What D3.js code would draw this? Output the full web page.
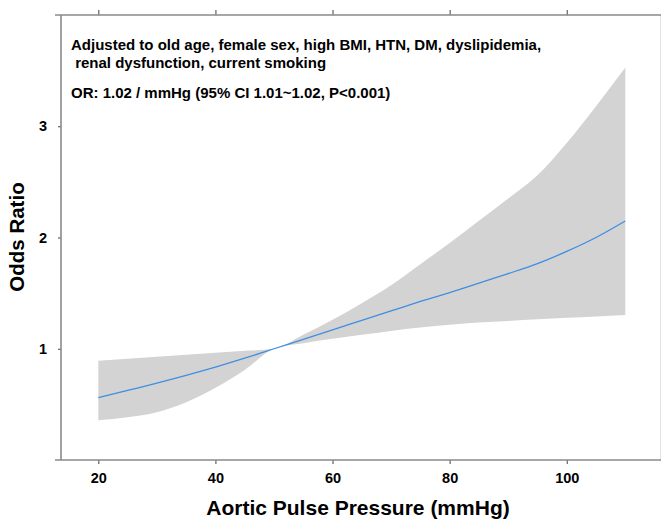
<!DOCTYPE html>
<html>
<head>
<meta charset="utf-8">
<script src="https://cdn.jsdelivr.net/npm/d3@7"></script>
<style>
  body { margin: 0; background: #fff; }
  svg text { font-family: "Liberation Sans", Arial, sans-serif; font-weight: bold; fill: #000; }
</style>
</head>
<body>
<svg id="chart" width="661" height="519"></svg>
<script>
// Aortic pulse pressure values (mmHg) where the curve was read
var pressure = [20, 25, 30, 35, 40, 45, 50, 55, 60, 65, 70, 75, 80, 85, 90, 95, 100, 105, 110];
// Odds ratio estimate and 95% CI band
var oddsRatio = [0.56, 0.625, 0.69, 0.76, 0.835, 0.915, 1.0, 1.085, 1.17, 1.255, 1.34, 1.425, 1.505, 1.59, 1.675, 1.765, 1.875, 2.0, 2.148];
var ciUpper   = [0.893, 0.91, 0.928, 0.946, 0.964, 0.982, 1.0, 1.125, 1.26, 1.41, 1.57, 1.76, 1.95, 2.15, 2.35, 2.56, 2.85, 3.18, 3.527];
var ciLower   = [0.357, 0.385, 0.43, 0.52, 0.65, 0.81, 1.0, 1.05, 1.09, 1.125, 1.16, 1.19, 1.215, 1.235, 1.25, 1.265, 1.278, 1.29, 1.303];

var xTicks = [20, 40, 60, 80, 100];
var yTicks = [1, 2, 3];

var noteLines = [
  'Adjusted to old age, female sex, high BMI, HTN, DM, dyslipidemia,',
  ' renal dysfunction, current smoking'
];
var orNote = 'OR: 1.02 / mmHg (95% CI 1.01~1.02, P<0.001)';
var xTitle = 'Aortic Pulse Pressure (mmHg)';
var yTitle = 'Odds Ratio';

var svg = d3.select('#chart');
var plotTop = 15, plotBottom = 460, plotLeft = 55, plotRight = 661, yAxisX = 61;

var x = d3.scaleLinear().domain([12.6, 116.1]).range([plotLeft, plotRight]);
var y = d3.scaleLinear().domain([0, 4]).range([plotBottom, plotTop]);

var rows = pressure.map((p, i) => ({ p: p, or: oddsRatio[i], hi: ciUpper[i], lo: ciLower[i] }));

// Confidence band
svg.append('path')
  .datum(rows)
  .attr('fill', '#d3d3d3')
  .attr('d', d3.area()
    .x(d => x(d.p))
    .y0(d => y(d.lo))
    .y1(d => y(d.hi))
    .curve(d3.curveMonotoneX));

// Estimate line
svg.append('path')
  .datum(rows)
  .attr('fill', 'none')
  .attr('stroke', '#3e8ee3')
  .attr('stroke-width', 1.3)
  .attr('d', d3.line()
    .x(d => x(d.p))
    .y(d => y(d.or))
    .curve(d3.curveMonotoneX));

// faint right border
svg.append('line')
  .attr('x1', 660.5).attr('x2', 660.5).attr('y1', plotTop).attr('y2', plotBottom)
  .attr('stroke', '#e4e4e4').attr('stroke-width', 1);

// Axes
var axisColor = '#8a8a8a';
var styleAxis = function (g) {
  g.select('.domain').remove();
  g.selectAll('.tick line').attr('stroke', '#444').attr('stroke-width', 1);
  g.selectAll('.tick text').attr('font-size', 14.5).attr('fill', '#000');
};

svg.append('g')
  .attr('transform', `translate(0,${plotBottom})`)
  .call(d3.axisBottom(x).tickValues(xTicks).tickSize(4).tickPadding(9))
  .call(styleAxis);

svg.append('g')
  .attr('transform', `translate(0,${plotTop})`)
  .call(d3.axisTop(x).tickValues(xTicks).tickSize(5).tickFormat(''))
  .call(styleAxis);

svg.append('g')
  .attr('transform', `translate(${yAxisX},0)`)
  .call(d3.axisLeft(y).tickValues(yTicks).tickSize(3).tickPadding(11).tickFormat(d3.format('d')))
  .call(styleAxis);

svg.append('line')
  .attr('x1', plotLeft).attr('x2', plotRight).attr('y1', plotTop).attr('y2', plotTop)
  .attr('stroke', axisColor).attr('stroke-width', 1.6);
svg.append('line')
  .attr('x1', plotLeft).attr('x2', plotRight).attr('y1', plotBottom).attr('y2', plotBottom)
  .attr('stroke', axisColor).attr('stroke-width', 1.6);
svg.append('line')
  .attr('x1', yAxisX).attr('x2', yAxisX).attr('y1', plotTop).attr('y2', plotBottom)
  .attr('stroke', axisColor).attr('stroke-width', 1.6);

// Annotation text
noteLines.forEach((t, i) => {
  svg.append('text')
    .attr('x', 71).attr('y', 50 + i * 18)
    .attr('font-size', 15)
    .attr('xml:space', 'preserve')
    .style('white-space', 'pre')
    .text(t);
});
svg.append('text')
  .attr('x', 71).attr('y', 98)
  .attr('font-size', 15)
  .text(orNote);

// Axis titles
svg.append('text')
  .attr('x', 358).attr('y', 515)
  .attr('text-anchor', 'middle')
  .attr('font-size', 21)
  .text(xTitle);

svg.append('text')
  .attr('transform', 'translate(24,237) rotate(-90)')
  .attr('text-anchor', 'middle')
  .attr('font-size', 20.5)
  .text(yTitle);
</script>
</body>
</html>
